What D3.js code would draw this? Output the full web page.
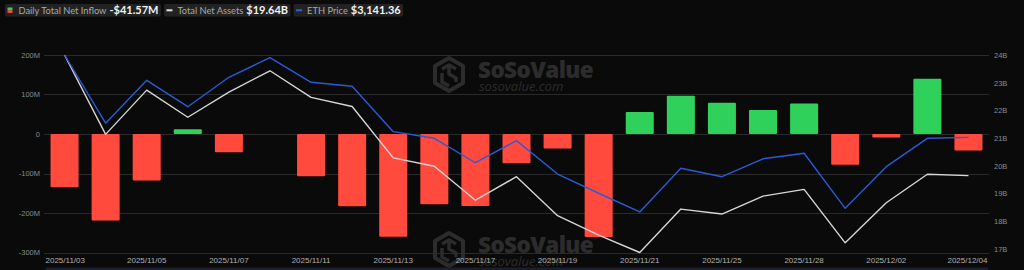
<!DOCTYPE html>
<html>
<head>
<meta charset="utf-8">
<script src="https://cdn.jsdelivr.net/npm/d3@7"></script>
<style>
  html, body { margin: 0; padding: 0; background: #0a0a0a; }
  svg { display: block; }
</style>
</head>
<body>
<svg id="chart" width="1024" height="270"></svg>
<script>
// ---------------- DATA ----------------
const dates = ["2025/11/03","2025/11/04","2025/11/05","2025/11/06","2025/11/07","2025/11/10","2025/11/11","2025/11/12","2025/11/13","2025/11/14","2025/11/17","2025/11/18","2025/11/19","2025/11/20","2025/11/21","2025/11/24","2025/11/25","2025/11/26","2025/11/28","2025/12/01","2025/12/02","2025/12/03","2025/12/04"];
// Daily total net inflow, in millions USD
const netInflow = [-135, -219, -118, 12, -46, 0, -107, -183, -260, -178, -182, -74, -37, -261, 56, 97, 79, 61, 77, -78, -9, 140, -41.57];
// Total net assets, in billions USD
const netAssets = [24.00, 21.13, 22.73, 21.75, 22.66, 23.43, 22.47, 22.14, 20.28, 19.98, 18.75, 19.60, 18.19, 17.49, 16.86, 18.43, 18.25, 18.90, 19.14, 17.21, 18.66, 19.69, 19.64];
// ETH price, USD
const ethPrice = [3600, 3220, 3459, 3312, 3476, 3585, 3448, 3426, 3173, 3136, 3000, 3123, 2937, 2830, 2726, 2969, 2922, 3022, 3053, 2746, 2978, 3136, 3141.36];

const leftTicks = [200, 100, 0, -100, -200, -300];
const leftTickLabels = ["200M", "100M", "0", "-100M", "-200M", "-300M"];
const rightTicks = [24, 23, 22, 21, 20, 19, 18, 17];
const rightTickLabels = ["24B", "23B", "22B", "21B", "20B", "19B", "18B", "17B"];
const xLabelIdx = [0, 2, 4, 6, 8, 10, 12, 14, 16, 18, 20, 22];
const ethDomain = [2500, 3600];

const legendItems = [
  { label: "Daily Total Net Inflow", value: "-$41.57M", icon: "bar" },
  { label: "Total Net Assets", value: "$19.64B", icon: "white" },
  { label: "ETH Price", value: "$3,141.36", icon: "blue" }
];

// ---------------- STYLE ----------------
const C = {
  bg: "#0a0a0a",
  grid: "#2a2a2a",
  red: "#ff4a3d",
  green: "#30d15b",
  white: "#d6d6d6",
  blue: "#2a5bd7",
  axisText: "#8a8a8a",
  xText: "#b0b0b0",
  wm: "#2c2c2c"
};
const M = { left: 44, right: 989, top: 55, bottom: 252.5 };

const svg = d3.select("#chart");
svg.append("rect").attr("width", 1024).attr("height", 270).attr("fill", C.bg);

// ---------------- SCALES ----------------
const x = d3.scaleBand().domain(dates).range([M.left, M.right]).paddingInner(0.318).paddingOuter(0.159);
const yL = d3.scaleLinear().domain([-300, 200]).range([M.bottom, M.top]);
const yR = d3.scaleLinear().domain([d3.min(netAssets), d3.max(netAssets)]).range([M.bottom, M.top]);
const yE = d3.scaleLinear().domain(ethDomain).range([M.bottom, M.top]);
const cx = d => x(d) + x.bandwidth() / 2;

// ---------------- GRID ----------------
svg.append("g").selectAll("line").data(leftTicks).join("line")
  .attr("x1", M.left).attr("x2", M.right)
  .attr("y1", d => Math.round(yL(d)) + 0.5).attr("y2", d => Math.round(yL(d)) + 0.5)
  .attr("stroke", C.grid).attr("stroke-width", 1);

// ---------------- WATERMARKS ----------------
function watermark(g) {
  const ic = g.append("g");
  ic.append("path")
    .attr("d", "M16,2 L30,10 L30,27 L16,35 L2,27 L2,10 Z")
    .attr("fill", "none").attr("stroke", C.wm).attr("stroke-width", 4).attr("stroke-linejoin", "round");
  ic.append("path")
    .attr("d", "M9,13 L16,9 L23,13 M16,9 L16,18 L23,22 L23,26 M9,17 L9,26 L16,30")
    .attr("fill", "none").attr("stroke", C.wm).attr("stroke-width", 3.5).attr("stroke-linejoin", "round");
  g.append("text").attr("x", 45).attr("y", 22).text("SoSoValue")
    .attr("font-family", "Open Sans, sans-serif").attr("font-weight", 800)
    .attr("font-size", 22.5).attr("fill", C.wm).attr("letter-spacing", -0.6);
  g.append("text").attr("x", 46).attr("y", 35).text("sosovalue.com")
    .attr("font-family", "Open Sans, sans-serif").attr("font-style", "italic")
    .attr("font-size", 13).attr("fill", C.wm);
}
watermark(svg.append("g").attr("transform", "translate(433,56)"));
watermark(svg.append("g").attr("transform", "translate(433,231)"));

// ---------------- BARS ----------------
svg.append("g").selectAll("rect").data(dates).join("rect")
  .attr("x", d => x(d))
  .attr("width", x.bandwidth())
  .attr("y", (d, i) => yL(Math.max(0, netInflow[i])))
  .attr("height", (d, i) => Math.abs(yL(netInflow[i]) - yL(0)))
  .attr("rx", 1)
  .attr("fill", (d, i) => netInflow[i] >= 0 ? C.green : C.red);

// ---------------- LINES ----------------
const lineAssets = d3.line().x((d, i) => cx(dates[i])).y(d => yR(d));
const lineEth = d3.line().x((d, i) => cx(dates[i])).y(d => yE(d));
svg.append("path").datum(netAssets).attr("d", lineAssets)
  .attr("fill", "none").attr("stroke", C.white).attr("stroke-width", 1.4).attr("stroke-linejoin", "round");
svg.append("path").datum(ethPrice).attr("d", lineEth)
  .attr("fill", "none").attr("stroke", C.blue).attr("stroke-width", 1.4).attr("stroke-linejoin", "round");

// ---------------- AXES ----------------
const leftAxis = svg.append("g").attr("transform", `translate(${M.left - 4},0)`)
  .call(d3.axisLeft(yL).tickValues(leftTicks).tickFormat((d, i) => leftTickLabels[i]).tickSize(0).tickPadding(0));
const rightAxis = svg.append("g").attr("transform", `translate(${M.right + 5},0)`)
  .call(d3.axisRight(yR).tickValues(rightTicks).tickFormat((d, i) => rightTickLabels[i]).tickSize(0).tickPadding(0));
[leftAxis, rightAxis].forEach(a => {
  a.select(".domain").remove();
  a.selectAll("text").attr("fill", C.axisText).attr("font-size", 7.5)
    .attr("font-family", "Liberation Sans, Arial, sans-serif");
});

const xg = svg.append("g");
xg.selectAll("text").data(xLabelIdx).join("text")
  .attr("x", (d, k) => k === 0 ? x.range()[0] + 1.5 : (k === xLabelIdx.length - 1 ? x.range()[1] - 1.5 : cx(dates[d])))
  .attr("y", 263)
  .attr("text-anchor", (d, k) => k === 0 ? "start" : (k === xLabelIdx.length - 1 ? "end" : "middle"))
  .attr("fill", C.xText).attr("font-size", 8)
  .attr("font-family", "Liberation Sans, Arial, sans-serif")
  .text(d => dates[d]);

// bottom data-zoom strip
svg.append("rect").attr("x", x.range()[0] + 2).attr("y", 267.5)
  .attr("width", x.range()[1] - x.range()[0] - 3).attr("height", 4)
  .attr("fill", "#18202f");

// ---------------- LEGEND ----------------
const lg = svg.append("g");
let lx = 5;
legendItems.forEach(it => {
  const g = lg.append("g").attr("transform", `translate(${lx},4)`);
  const bgRect = g.append("rect").attr("height", 12.5).attr("rx", 2).attr("fill", "#222222");
  if (it.icon === "bar") {
    g.append("rect").attr("x", 2.5).attr("y", 3.5).attr("width", 5).attr("height", 2.7).attr("fill", C.green);
    g.append("rect").attr("x", 2.5).attr("y", 6.2).attr("width", 5).attr("height", 2.7).attr("fill", C.red);
  } else {
    g.append("rect").attr("x", 2.5).attr("y", 5.3).attr("width", 6).attr("height", 2)
      .attr("fill", it.icon === "white" ? "#e0e0e0" : "#2a62e8");
  }
  const t1 = g.append("text").attr("x", 13.5).attr("y", 9.6).text(it.label)
    .attr("font-family", "Lato, sans-serif").attr("font-size", 9.3).attr("fill", "#a8a8a8");
  const w1 = t1.node().getComputedTextLength();
  const t2 = g.append("text").attr("x", 13.5 + w1 + 3).attr("y", 10).text(it.value)
    .attr("font-family", "Lato, sans-serif").attr("font-weight", 700).attr("font-size", 11).attr("fill", "#f2f2f2");
  const w2 = t2.node().getComputedTextLength();
  const bw = 13.5 + w1 + 3 + w2 + 2.5;
  bgRect.attr("width", bw);
  lx += bw + 3;
});
</script>
</body>
</html>
